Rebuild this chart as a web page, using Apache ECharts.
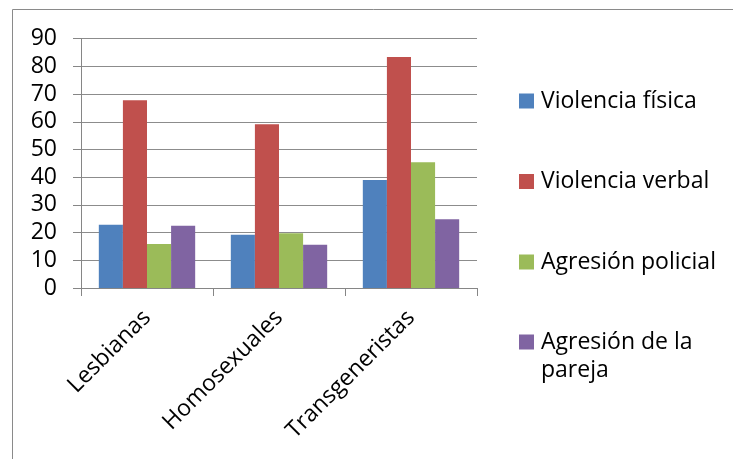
<!DOCTYPE html>
<html>
<head>
<meta charset="utf-8">
<script src="https://cdn.jsdelivr.net/npm/echarts@6/dist/echarts.min.js"></script>
<style>
html,body{margin:0;padding:0;background:#fff;}
#c{width:733px;height:459px;}
</style>
</head>
<body>
<div id="c"></div>
<script>
const categories = ['Lesbianas', 'Homosexuales', 'Transgeneristas'];
const seriesNames = ['Violencia física', 'Violencia verbal', 'Agresión policial', 'Agresión de la pareja'];
const violenciaFisica = [22.8, 19.2, 39.0];
const violenciaVerbal = [67.8, 59.1, 83.4];
const agresionPolicial = [15.9, 19.8, 45.4];
const agresionPareja = [22.5, 15.6, 24.8];
const yTicks = [0, 10, 20, 30, 40, 50, 60, 70, 80, 90];
const colors = ['#4F81BD', '#C0504D', '#9BBB59', '#8064A2'];

const seriesData = [violenciaFisica, violenciaVerbal, agresionPolicial, agresionPareja];
const FONT = 'Open Sans';
const FS = 23;
const chart = echarts.init(document.getElementById('c'));
const legendText = { fontSize: FS, color: '#000', lineHeight: 28, fontFamily: FONT, padding: [0, 0, 0, 2] };
chart.setOption({
  animation: false,
  textStyle: { fontFamily: FONT },
  graphic: [{
    type: 'rect', silent: true, z: -10,
    shape: { x: 12.5, y: 9.5, width: 800, height: 500 },
    style: { fill: 'none', stroke: '#8a8a8a', lineWidth: 1 }
  }],
  grid: { left: 81, right: 256, top: 38.7, bottom: 171, containLabel: false },
  xAxis: {
    type: 'category',
    data: categories,
    axisLine: { lineStyle: { color: '#868686', width: 1 } },
    axisTick: { show: true, length: 8, lineStyle: { color: '#868686' } },
    axisLabel: { rotate: 45, margin: 26, fontSize: FS, color: '#000', fontFamily: FONT }
  },
  yAxis: {
    type: 'value',
    min: yTicks[0],
    max: yTicks[yTicks.length - 1],
    interval: 10,
    axisLine: { show: true, lineStyle: { color: '#868686', width: 1 } },
    axisTick: { show: true, length: 8, lineStyle: { color: '#868686' } },
    axisLabel: { margin: 24, fontSize: FS, color: '#000', fontFamily: FONT },
    splitLine: { show: true, lineStyle: { color: '#8c8c8c', width: 1 } }
  },
  legend: [{
    orient: 'vertical',
    left: 519,
    top: 87,
    padding: 0,
    itemWidth: 15,
    itemHeight: 15,
    itemGap: 52.5,
    icon: 'rect',
    textStyle: legendText,
    data: seriesNames.slice(0, 3)
  }, {
    orient: 'vertical',
    left: 519,
    top: 328,
    padding: 0,
    itemWidth: 15,
    itemHeight: 43,
    icon: 'path://M0,0H15V15H0Z M0,43L0.001,43Z',
    formatter: function (n) { return n.replace(' la ', ' la\n'); },
    textStyle: legendText,
    data: seriesNames.slice(3)
  }],
  series: seriesNames.map(function (n, i) {
    return {
      type: 'bar',
      name: n,
      data: seriesData[i],
      barGap: '0%',
      barCategoryGap: '27%',
      itemStyle: { color: colors[i] }
    };
  })
});
</script>
</body>
</html>
